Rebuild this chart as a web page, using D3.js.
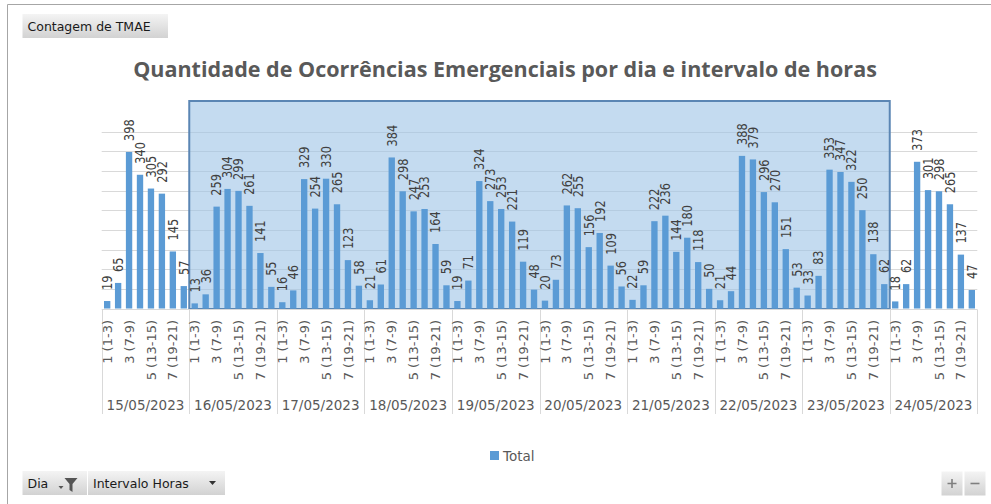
<!DOCTYPE html>
<html lang="pt">
<head>
<meta charset="UTF-8" />
<script src="https://d3js.org/d3.v7.min.js"></script>
<title>Quantidade de Ocorrências Emergenciais</title>
<style>
  html, body { margin: 0; padding: 0; background: #fff; }
  svg { display: block; }
</style>
</head>
<body>
<script>
  var w = 991;
  var h = 504;

  // dias (nível externo do eixo) e intervalos (nível interno)
  var days = ["15/05/2023", "16/05/2023", "17/05/2023", "18/05/2023", "19/05/2023",
              "20/05/2023", "21/05/2023", "22/05/2023", "23/05/2023", "24/05/2023"];
  var intervals = ["1 (1-3)", "2 (4-6)", "3 (7-9)", "4 (10-12)",
                   "5 (13-15)", "6 (16-18)", "7 (19-21)", "8 (22-24)"];

  // Contagem de TMAE por dia, um array por dia
  var totals = [
    [19, 65, 398, 340, 305, 292, 145, 57],
    [13, 36, 259, 304, 299, 261, 141, 55],
    [16, 46, 329, 254, 330, 265, 123, 58],
    [21, 61, 384, 298, 247, 253, 164, 59],
    [19, 71, 324, 273, 253, 221, 119, 48],
    [20, 73, 262, 255, 156, 192, 109, 56],
    [22, 59, 222, 236, 144, 180, 118, 50],
    [21, 44, 388, 379, 296, 270, 151, 53],
    [33, 83, 353, 347, 322, 250, 138, 62],
    [18, 62, 373, 301, 298, 265, 137, 47]
  ];

  var gridTicks = [50, 100, 150, 200, 250, 300, 350, 400, 450];

  var barColor = "#5b9bd5";
  var textGray = "#595959";

  var svg = d3.select("body").append("svg")
    .attr("width", w)
    .attr("height", h);

  var defs = svg.append("defs");
  var grad = defs.append("linearGradient")
    .attr("id", "btn")
    .attr("x1", 0).attr("y1", 0).attr("x2", 0).attr("y2", 1);
  grad.append("stop").attr("offset", "0%").attr("stop-color", "#f4f4f4");
  grad.append("stop").attr("offset", "100%").attr("stop-color", "#d2d2d2");

  // moldura do gráfico
  svg.append("path")
    .attr("d", "M7.5,504 L7.5,4.5 L991,4.5")
    .attr("fill", "none")
    .attr("stroke", "#a6a6a6");

  // botões do gráfico dinâmico
  function button(x, y, bw, label) {
    var g = svg.append("g").attr("transform", "translate(" + x + "," + y + ")");
    g.append("rect")
      .attr("width", bw).attr("height", 24)
      .attr("fill", "url(#btn)");
    g.append("text")
      .attr("x", 5).attr("y", 17)
      .attr("font-family", "DejaVu Sans")
      .attr("font-size", 12.5)
      .attr("fill", "#1a1a1a")
      .text(label);
    return g;
  }

  button(22.5, 14, 145.5, "Contagem de TMAE");
  var dia = button(22.5, 471, 64.5, "Dia");
  // seta + funil
  dia.append("path").attr("d", "M36,15 h5 l-2.5,3 z").attr("fill", "#555");
  dia.append("path").attr("d", "M42,7 h13 l-5,6 v8 l-3,-2 v-6 z").attr("fill", "#555");
  var ih = button(88, 471, 137, "Intervalo Horas");
  ih.append("path").attr("d", "M121,10 h7 l-3.5,4 z").attr("fill", "#333");

  var zp = svg.append("g").attr("transform", "translate(941.5,471.5)");
  zp.append("rect").attr("width", 21).attr("height", 24).attr("fill", "url(#btn)");
  zp.append("rect").attr("x", 23).attr("width", 21).attr("height", 24).attr("fill", "url(#btn)");
  zp.append("path").attr("d", "M6,12 h9 M10.5,7.5 v9").attr("stroke", "#7f7f7f").attr("stroke-width", 1.6);
  zp.append("path").attr("d", "M29,12 h9").attr("stroke", "#7f7f7f").attr("stroke-width", 1.6);

  // título
  var title = svg.append("text")
    .attr("x", 505)
    .attr("y", 77)
    .attr("text-anchor", "middle")
    .attr("font-family", "Open Sans")
    .attr("font-weight", "bold")
    .attr("font-size", 19)
    .attr("fill", textGray)
    .text("Quantidade de Ocorrências Emergenciais por dia e intervalo de horas");
  var tw = title.node().getComputedTextLength();
  title.attr("font-size", 19 * 744 / tw);

  // escalas
  var x0 = d3.scaleBand()
    .domain(days)
    .range([101.7, 977.3]);

  var x1 = d3.scaleBand()
    .domain(intervals)
    .range([0, x0.bandwidth()])
    .paddingInner(0.42)
    .paddingOuter(0.21);

  var y = d3.scaleLinear()
    .domain([0, 450])
    .range([308.5, 131.5]);

  // linhas de grade
  svg.append("g")
    .selectAll("line")
    .data(gridTicks)
    .enter()
    .append("line")
    .attr("x1", x0.range()[0])
    .attr("x2", x0.range()[1])
    .attr("y1", function (d) { return Math.round(y(d)) + 0.5; })
    .attr("y2", function (d) { return Math.round(y(d)) + 0.5; })
    .attr("stroke", "#d9d9d9");

  // seleção (16/05 a 23/05)
  svg.append("rect")
    .attr("x", x0(days[1]))
    .attr("y", 101)
    .attr("width", x0(days[8]) + x0.bandwidth() - x0(days[1]))
    .attr("height", y(0) + 0.5 - 101)
    .attr("fill", "#9dc3e6")
    .attr("fill-opacity", 0.6)
    .attr("stroke", "#5b86b4")
    .attr("stroke-width", 2);

  // eixo de categorias
  var axisY = y(0) + 1;
  svg.append("line")
    .attr("x1", x0.range()[0]).attr("x2", x0.range()[1])
    .attr("y1", axisY).attr("y2", axisY)
    .attr("stroke", "#d9d9d9");

  var bounds = days.map(function (d) { return x0(d); }).concat([x0.range()[1]]);
  svg.append("g")
    .selectAll("line")
    .data(bounds)
    .enter()
    .append("line")
    .attr("x1", function (d) { return Math.round(d) + 0.5; })
    .attr("x2", function (d) { return Math.round(d) + 0.5; })
    .attr("y1", axisY)
    .attr("y2", 414)
    .attr("stroke", "#d9d9d9");

  // barras
  var dayG = svg.append("g")
    .selectAll("g")
    .data(days)
    .enter()
    .append("g")
    .attr("transform", function (d) { return "translate(" + x0(d) + ",0)"; });

  dayG.selectAll("rect")
    .data(function (d, i) {
      return intervals.map(function (k, j) { return { k: k, v: totals[i][j] }; });
    })
    .enter()
    .append("rect")
    .attr("x", function (d) { return x1(d.k); })
    .attr("y", function (d) { return y(d.v); })
    .attr("width", x1.bandwidth())
    .attr("height", function (d) { return y(0) - y(d.v); })
    .attr("fill", barColor);

  // rótulos de dados (fonte um pouco estreitada, como a Calibri)
  dayG.selectAll("text.val")
    .data(function (d, i) {
      return intervals.map(function (k, j) { return { k: k, v: totals[i][j] }; });
    })
    .enter()
    .append("text")
    .attr("class", "val")
    .attr("transform", function (d) {
      return "translate(" + (x1(d.k) + x1.bandwidth() / 2) + "," + (y(d.v) - 11) + ") rotate(-90) scale(0.84,1)";
    })
    .attr("dy", "0.36em")
    .attr("font-family", "DejaVu Sans")
    .attr("font-size", 13.5)
    .attr("fill", "#404040")
    .text(function (d) { return d.v; });

  // rótulos do nível interno (um sim, um não)
  dayG.selectAll("text.int")
    .data(intervals.filter(function (d, i) { return i % 2 === 0; }))
    .enter()
    .append("text")
    .attr("class", "int")
    .attr("transform", function (d) {
      return "translate(" + (x1(d) + x1.bandwidth() / 2) + ",320) rotate(-90)";
    })
    .attr("dy", "0.35em")
    .attr("text-anchor", "end")
    .attr("font-family", "DejaVu Sans")
    .attr("font-size", 13)
    .attr("fill", textGray)
    .text(function (d) { return d; });

  // rótulos dos dias
  dayG.append("text")
    .attr("x", x0.bandwidth() / 2)
    .attr("y", 410)
    .attr("text-anchor", "middle")
    .attr("font-family", "DejaVu Sans")
    .attr("font-size", 13.5)
    .attr("fill", textGray)
    .text(function (d) { return d; });

  // legenda
  svg.append("rect")
    .attr("x", 490).attr("y", 451)
    .attr("width", 9).attr("height", 9)
    .attr("fill", barColor);
  svg.append("text")
    .attr("x", 503).attr("y", 460.5)
    .attr("font-family", "DejaVu Sans")
    .attr("font-size", 13.5)
    .attr("fill", textGray)
    .text("Total");
</script>
</body>
</html>
